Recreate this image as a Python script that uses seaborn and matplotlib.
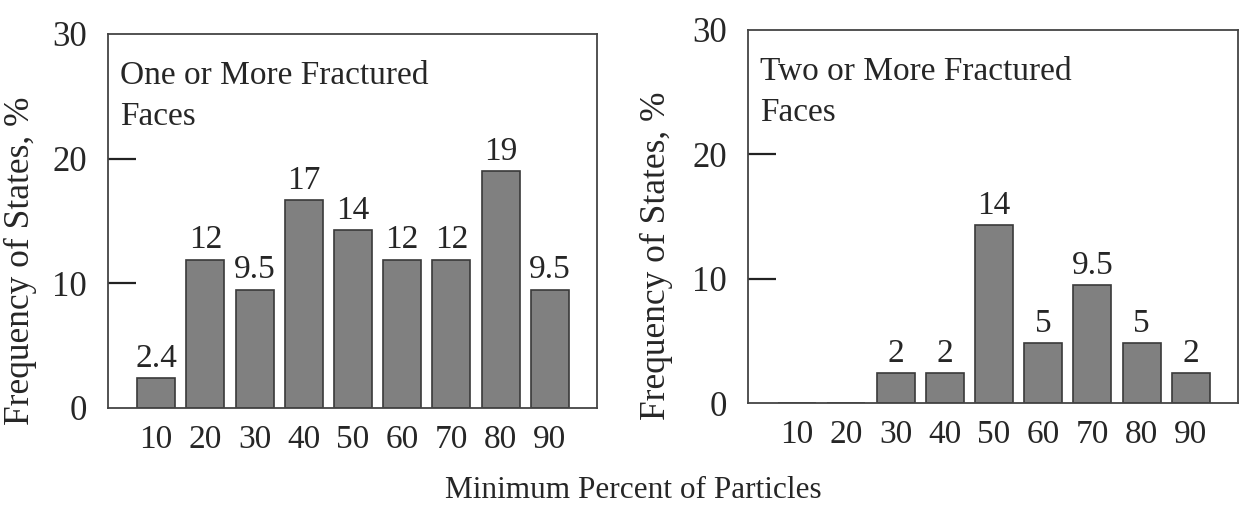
import matplotlib
matplotlib.use("Agg")
import matplotlib.pyplot as plt
import seaborn as sns
import pandas as pd

# Data
categories = ["10", "20", "30", "40", "50", "60", "70", "80", "90"]
one_or_more = [2.4, 11.9, 9.5, 16.7, 14.3, 11.9, 11.9, 19.0, 9.5]
one_or_more_labels = ["2.4", "12", "9.5", "17", "14", "12", "12", "19", "9.5"]
two_or_more = [0, 0, 2.4, 2.4, 14.3, 4.8, 9.5, 4.8, 2.4]
two_or_more_labels = ["", "", "2", "2", "14", "5", "9.5", "5", "2"]
y_ticks = [0, 10, 20, 30]

sns.set_style("white")
plt.rcParams["font.family"] = ["Liberation Serif", "DejaVu Serif"]

BAR = "#808080"
EDGE = "#3a3a3a"
FS = 24

fig = plt.figure(figsize=(12.43, 5.08), dpi=100)
W, H = 1243, 508


def add_ax(x0, x1, y0, y1):
    return fig.add_axes([x0 / W, 1 - y1 / H, (x1 - x0) / W, (y1 - y0) / H])


def panel(ax, values, labels, title, xlim, ylab_xy):
    df = pd.DataFrame({"cat": categories, "val": values})
    sns.barplot(data=df, x="cat", y="val", ax=ax, color=BAR, saturation=1,
                edgecolor=EDGE, linewidth=1.2, width=0.77)
    ax.bar_label(ax.containers[0], labels=labels, padding=3, fontsize=FS)
    ax.set_xlim(*xlim)
    ax.set_ylim(0, 30)
    ax.set_yticks(y_ticks)
    ax.set_yticklabels([str(t) for t in y_ticks], fontsize=25)
    ax.tick_params(axis="y", direction="in", length=20, width=1.6,
                   color="#222222", pad=15, left=True)
    ax.tick_params(axis="x", length=0, pad=12, labelsize=FS)
    ticks = ax.yaxis.get_major_ticks()
    ticks[0].tick1line.set_visible(False)
    ticks[-1].tick1line.set_visible(False)
    for sp in ax.spines.values():
        sp.set_visible(True)
        sp.set_color("#444444")
        sp.set_linewidth(1.3)
    ax.set_xlabel("")
    ax.set_ylabel("Frequency of States, %", fontsize=25.5)
    ax.yaxis.set_label_coords(*ylab_xy)
    ax.text(0.025, 0.93, title, transform=ax.transAxes, fontsize=FS,
            ha="left", va="top", linespacing=1.45)


ax1 = add_ax(108, 597, 34, 408)
panel(ax1, one_or_more, one_or_more_labels, "One or More Fractured\nFaces",
      (-0.98, 8.96), (-0.145, 0.393))

ax2 = add_ax(748, 1238, 30, 403)
panel(ax2, two_or_more, two_or_more_labels, "Two or More Fractured\nFaces",
      (-1.0, 8.96), (-0.153, 0.394))

fig.text(633 / W, 1 - 490 / H, "Minimum Percent of Particles", fontsize=22.5,
         ha="center", va="center")

fig.savefig("out.png", dpi=100)
